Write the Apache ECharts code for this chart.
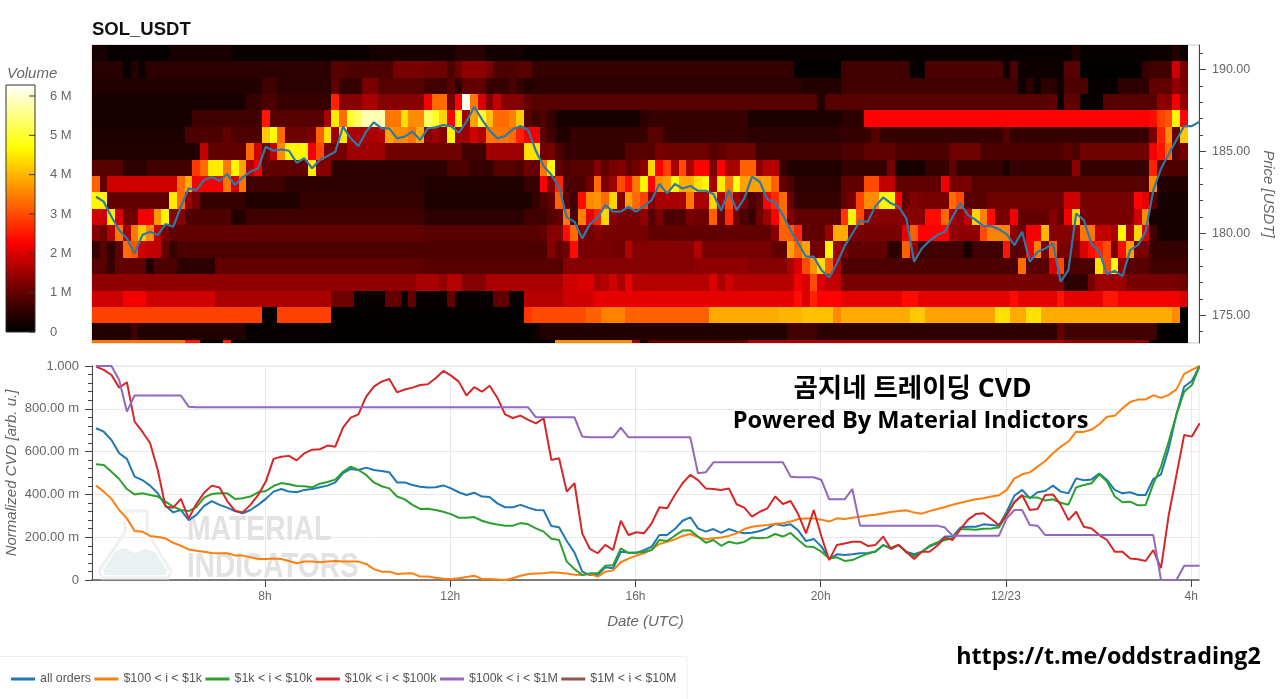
<!DOCTYPE html>
<html><head><meta charset="utf-8">
<style>html,body{margin:0;padding:0;background:#fff}#c{width:1280px;height:699px}</style>
<script src="https://cdn.jsdelivr.net/npm/echarts@6/dist/echarts.min.js"></script>
</head><body><div id="c"></div>
<script>
// Heatmap rows: flat [startColumn, volume in millions, ...] runs per price level (10-minute columns)
const row191=[0,.3,2,.1,10,.3,18,.15,36,.3,47,.45,51,.25,56,.12,127,.4,128,.1,137,.2,140,.4,141,.2];
const row190=[0,.45,4,.1,5,.45,6,.2,7,.5,31,.9,33,.8,39,1.2,43,1.1,46,.8,47,1.1,48,1.4,51,1.2,52,.8,55,.9,57,.6,91,.05,97,.7,106,.1,108,.8,118,.2,119,.8,120,.2,126,.9,128,.05,136,.6,137,.7,140,1.9,141,1.2];
const row189=[0,.4,22,.7,24,.5,31,1,32,.6,35,1.2,37,.9,43,.7,46,.9,47,.5,48,1,51,.6,54,.8,55,.6,56,.4,57,.5,92,.4,97,.7,120,.2,121,.5,122,.2,123,.5,125,.2,126,.8,129,.1,133,.5,136,.5,137,1,139,1,140,1.4,141,1.2];
const row188=[0,.3,20,.6,22,.8,24,.6,31,2.6,32,1.3,35,1.6,37,1.3,43,2.2,44,3.3,46,1.2,47,2.3,48,6.2,49,3.4,50,2,51,1.3,52,1.8,53,1.3,56,1,57,.9,94,.4,95,.9,124,1,125,.1,126,1,128,.1,131,.9,138,1.4,139,1.3,140,2.2,141,1.4];
const row187=[0,.3,13,.7,22,2.5,23,.9,30,1.6,31,4.5,32,3.3,33,4.9,34,5.3,35,5.8,38,3.4,40,4.4,41,3.6,43,5.3,44,5,45,4.3,46,2.3,47,4.6,48,1.5,49,3.8,50,5,51,4.1,52,3.3,54,3.5,55,4.2,56,.9,57,.7,58,.8,59,.6,60,.3,71,.5,72,.6,85,.35,97,.5,100,2.3,137,2.4,138,2.9,139,3.1,140,4.6,141,2.3];
const row186=[0,.35,12,.8,17,1,18,.8,22,4.2,23,4.7,24,3.3,25,1.1,28,1.2,29,3.2,30,4.4,31,1.5,32,4.5,33,1.6,37,1.7,38,3.8,39,3.6,41,3.4,42,3.9,43,1.3,44,1.5,45,1.3,46,4.6,47,1.5,49,1.9,50,1.7,51,3.4,54,3.3,55,2.6,56,2.2,58,.9,59,.7,60,.4,62,.6,72,.9,74,.6,85,.5,97,.6,101,.9,102,.6,118,.9,119,.6,137,1.2,138,2.6,139,3.6,140,1,141,4.2];
const row185=[0,.4,14,1.8,15,1,20,3.3,21,1.9,22,1.1,23,1.8,24,3.6,25,4.6,28,2.2,29,3,30,1.2,33,1.5,38,1.1,48,.7,51,1.5,56,4.4,58,1.1,59,1.2,60,.8,61,.6,69,.9,73,1.2,74,1.1,80,.9,81,1,82,1.1,86,.7,97,.8,100,1,104,.8,111,1.1,115,.8,126,1,127,.8,128,1.1,137,2.2,138,2.5,139,3.3,140,.9,141,1.2];
const row184=[0,.9,4,.5,7,.7,13,2.8,14,3.3,15,4.5,17,3.4,18,4.6,19,3.8,20,1.7,21,2.2,22,1,28,4.5,29,1.3,31,.5,43,.5,46,.8,49,.6,52,.9,55,.8,56,1.1,57,1,58,3.4,59,4.6,60,1,61,.8,62,.9,65,1.3,66,1,67,1.2,68,1.3,69,1,70,1.1,71,1.4,72,4.3,73,2.3,74,2.9,75,1.6,76,3,77,1.6,78,2.3,80,1.2,81,2.3,82,1.6,84,3.2,86,1.4,87,1.7,89,.6,90,.4,97,.6,103,1.2,104,.3,108,.6,111,1,112,.6,118,.3,119,.6,127,1.4,128,.6,137,2.6,138,.9,139,.8];
const row183=[0,3.2,1,1,2,1.9,11,3.3,12,3.9,13,2.2,17,3.4,18,2,19,3.4,20,.7,25,.5,43,.4,56,.6,58,2.3,59,1.3,60,2.6,61,.8,64,1.1,65,3.3,66,1.2,67,1.5,68,3,69,2.4,70,3.4,71,4.6,72,2.3,73,3.6,74,3.8,75,4.6,76,3.9,78,4.4,79,4.6,80,1.6,81,4.5,82,3.4,83,4.8,84,3.8,88,3.2,89,1,90,.8,91,.5,97,1,100,3,102,1.8,104,1,110,2.2,111,1.2,114,.9,137,3.6,138,.4];
const row182=[0,4.6,2,1,10,4.5,11,3.3,12,1.5,13,1.2,14,.6,20,.4,27,.6,43,.35,57,.6,58,.8,59,1,60,3.2,61,1,62,.7,63,2.4,64,3.6,65,3.7,66,3.3,67,4.3,68,1.3,69,3.8,70,3.3,71,2.9,72,1.3,73,1.6,77,3.4,78,1.6,80,4.3,81,1.7,82,3,83,1.5,84,1.2,85,.8,86,1,87,2.3,88,2.7,89,3.3,90,1.1,91,.6,97,1,98,1.2,99,2.9,100,3.6,102,4.6,104,2.3,105,1,106,1.3,107,1.2,111,3.3,112,3,113,.9,116,1.1,126,1.9,128,1.2,135,2.3,136,2.1,137,.9,138,.3];
const row181=[0,1.9,2,4.5,3,2,4,1.1,6,2.2,8,3.7,9,4.6,10,1.3,12,.8,18,.4,20,.7,43,.5,56,.7,59,.9,60,1,61,3.4,62,.8,63,3.5,64,2.1,65,2.6,66,4.3,67,1.3,68,1.2,71,1.4,72,.9,73,1.2,74,.8,77,1.2,78,1.1,80,3.2,81,1.1,82,2.7,83,1.1,84,.8,85,.6,86,1.1,87,1.5,88,2.3,89,3.3,90,1.3,91,1,97,2.8,98,4.6,99,3,100,1.3,108,2.4,110,3.3,111,1.6,112,1.4,113,1.8,114,4.3,115,3.5,116,2.4,117,1.2,119,2.2,120,1,124,1.3,125,1,126,2.2,127,4.3,128,1.2,135,1.9,136,3.6,137,.3];
const row180=[0,1.3,1,1.1,2,1.7,3,3.4,4,1.6,5,3.4,6,4.2,7,3.6,8,1.8,9,1.2,10,1,43,.9,58,1,59,1.3,61,2.4,62,3.3,63,1.3,64,1.1,65,1.3,66,1.2,72,1,88,1.3,89,3.2,91,2.7,92,1,95,1.5,96,3.9,98,1.2,105,2.1,106,3.2,107,2.3,111,1.4,115,3,116,3.5,119,1.4,120,1.1,121,2.2,123,4,124,1.3,127,1.5,128,3.4,130,1.8,132,1.6,133,4.6,134,1.6,135,4.3,136,2,137,.7,138,.3];
const row179=[0,.6,1,.9,2,.5,3,1,4,3.3,5,3.1,6,1.9,7,1.8,9,1,10,.6,11,.8,43,.8,59,1.3,60,1,61,1.1,62,2.4,63,1.2,68,1.1,69,1.7,70,1.3,78,1.7,79,1.2,88,1,90,3.8,91,3.3,92,3.8,93,1.1,94,1.2,95,4.6,96,1.5,97,1.2,98,1,103,.5,105,3.2,106,1.4,107,.7,113,.3,114,.7,118,2.5,119,.9,120,1,121,2.2,122,3.5,123,1.2,124,3.2,125,1.2,128,2,129,2.4,130,2.6,131,3,132,1.2,133,2.4,134,3.8,135,1.2,137,.6];
const row178=[0,.9,2,.6,3,1,7,.4,8,.8,11,.5,16,1,43,.9,61,1.3,78,1.4,85,1.3,90,1.6,91,2,92,3,93,3.7,94,4.4,95,3.2,96,1.6,97,.8,120,3.3,121,.9,124,2,125,3,126,.8,130,4.4,131,3,132,4.7,133,1.4,134,.9,137,.7];
const row177=[0,1.4,42,1.6,45,1.4,46,1.7,48,1.3,51,1.6,61,1.9,63,2,65,1.6,66,1.7,67,1.9,68,1.6,69,2.1,70,1.7,80,2,81,1.6,82,1.9,83,1.7,91,2.2,92,2,93,3,94,2,95,1.8,97,1.2,126,.5,129,1.2,130,1.5,134,1.2,141,1.1];
const row176=[0,1.9,4,2.2,7,1.9,16,1.6,31,1.1,34,.1,38,1,40,.1,41,1,42,.1,46,1,47,.1,52,1,54,.1,56,1.7,61,1.9,65,2.1,88,2.1,91,2.4,92,2,93,2.6,94,2.3,97,2.1,105,2.4,107,2.1,119,2.4,120,2.1,125,2.5,126,2.1,131,2.5,133,2.2,141,2];
const row175=[0,2.9,22,.1,24,2.9,31,.05,56,2.8,57,3,64,3.2,66,3.5,69,3.2,80,3.9,89,4,92,4.1,96,3.6,97,3.9,106,4.2,108,3.8,117,4.4,119,3.9,121,4.4,123,3.9,140,3.6,141,.05];
const row174=[0,.4,5,.7,6,.4,20,.1,31,.05,57,.2,58,.4,90,.7,94,.5,125,1,126,.7,138,.05];
const row173=[0,3.4,12,2.5,14,.1,17,2.6,18,.05,60,3.6,70,1.5,71,.3,72,1,85,1.6,126,1.4,137,.05];
const heatRows={191:row191,190:row190,189:row189,188:row188,187:row187,186:row186,185:row185,184:row184,183:row183,182:row182,181:row181,180:row180,179:row179,178:row178,177:row177,176:row176,175:row175,174:row174,173:row173};
const columnCount=142, heatStart=4.263, step=1/6, lineStart=4.35;

const price=[182.23,181.93,181.01,180.2,179.69,178.77,179.89,180.09,179.89,180.56,180.4,181.62,182.74,182.64,183.25,183.44,183.21,183.62,182.95,183.41,183.76,183.97,185.29,185.04,185.13,185.04,184.31,184.58,183.97,184.47,184.72,184.98,186.51,185.8,185.33,186.21,186.78,186.41,186.41,185.8,185.9,186.21,185.7,
186.41,186.47,186.61,186.55,186.14,186.82,187.73,186.96,186.27,185.8,185.94,186.35,186.55,186.31,185.02,184.11,183.56,182.84,180.97,180.7,179.69,180.56,180.97,181.72,181.32,181.32,181.62,181.32,181.66,182.03,183.01,182.44,183.01,182.74,182.89,182.6,182.6,182.4,181.38,182.64,181.42,182.13,183.46,183.15,182.07,181.89,181.11,180.2,179.38,178.57,178.57,177.75,177.3,178.16,
179.22,179.99,180.75,180.7,181.66,182.19,181.83,181.62,180.91,178.26,179.07,179.54,179.89,180.09,181.01,181.83,181.11,180.81,180.44,180.44,180.24,179.95,179.28,180.09,178.26,178.87,179.07,179.38,177.04,177.75,181.21,180.81,179.34,178.87,177.51,177.71,177.38,178.97,179.28,180.09,182.64,183.96,184.84,185.7,186.55,186.55,186.82];

// Normalized CVD in milli-units
const allOrders=[709,693,654,592,566,483,467,441,405,347,316,327,280,304,346,369,351,338,322,312,327,351,379,413,425,413,410,421,425,433,441,456,499,519,514,525,514,509,503,456,456,444,436,
432,433,442,428,410,397,408,390,388,358,340,340,351,338,327,326,252,246,182,128,39,23,23,59,55,132,128,126,139,156,210,210,238,277,293,241,226,238,220,238,226,218,221,229,241,262,254,260,231,182,192,156,98,120,
117,120,125,126,132,164,146,164,132,120,132,156,171,203,203,245,249,249,260,257,254,319,394,421,382,410,416,441,413,405,475,466,470,497,467,421,405,410,397,397,472,494,615,774,903,930,1000];
const tier100=[441,413,379,327,288,229,226,206,201,195,174,160,143,137,132,126,125,125,115,114,106,98,98,100,98,89,78,86,86,83,87,89,86,86,86,75,51,39,39,28,30,31,16,
16,11,6,5,8,14,20,5,5,2,0,8,20,28,30,31,36,34,30,25,23,28,16,39,45,83,100,114,125,143,168,178,190,206,215,201,190,195,199,206,218,238,249,254,257,263,265,273,285,287,288,282,273,288,
285,291,296,301,305,312,318,322,326,315,310,322,332,341,352,361,369,377,382,390,396,421,475,494,503,530,556,592,623,647,693,692,703,728,763,768,802,832,843,844,863,851,865,891,963,982,1000];
const tier1k=[541,537,506,472,425,400,405,397,390,366,343,327,322,341,385,402,405,405,379,382,390,410,416,439,453,447,439,438,433,450,458,469,506,530,514,491,456,438,428,390,377,351,332,
333,327,319,308,291,291,294,277,266,259,254,254,266,260,241,226,193,187,86,51,23,31,31,67,69,148,126,129,131,140,187,182,207,231,232,203,174,187,160,179,171,178,199,195,198,215,203,220,187,157,154,132,101,106,
89,93,109,123,134,162,151,164,128,111,132,160,176,187,195,237,237,235,240,241,245,304,366,393,385,385,371,377,361,352,433,444,452,494,460,390,363,366,349,351,449,530,647,774,880,911,1000];
const tier10k=[997,982,958,899,924,740,693,640,514,343,338,379,288,355,408,441,432,369,324,316,351,397,460,566,576,580,559,592,609,611,628,623,712,759,774,857,904,927,939,877,890,899,911,
915,943,977,955,927,862,901,880,908,852,774,757,768,748,732,756,561,569,413,452,218,145,125,164,140,277,210,223,218,265,340,335,397,452,491,467,428,425,421,428,354,338,296,319,335,390,355,369,307,218,327,203,93,164,
171,179,179,159,164,203,145,164,132,98,132,132,160,198,187,238,282,308,312,285,257,304,363,397,327,332,397,400,351,280,319,249,241,210,187,132,132,101,97,89,140,55,304,491,678,670,732];
const tier100k=[1000,1000,1000,935,787,862,862,862,862,862,862,862,810,
807,807,807,807,807,807,807,807,807,807,807,807,807,807,807,807,807,807,807,807,807,807,807,807,807,807,807,807,807,807,807,807,807,807,807,807,807,807,807,807,807,807,807,807,
760,760,760,760,760,760,670,667,667,667,667,712,667,667,667,667,667,667,667,667,667,499,503,550,550,550,550,550,550,550,550,550,550,483,480,480,480,467,377,377,377,425,
254,254,254,254,254,254,254,254,254,254,254,245,207,207,207,207,207,207,207,288,327,327,257,254,210,210,210,210,210,210,210,210,210,210,210,210,210,210,210,0,0,0,67,67,67];
const tier1M=[];

const xTicks=[8,12,16,20,24,28];
const xTickLabels={8:'8h',12:'12h',16:'16h',20:'20h',24:'12/23',28:'4h'};
const priceTicks=[175,180,185,190];
const priceMinorTicks=[174,175,176,177,178,179,180,181,182,183,184,185,186,187,188,189,190,191];
const volumeTicks=[0,1,2,3,4,5,6];
const volumeMax=6.28;

const tMin=4.263,tMax=28.17;
const timeOf=i=>lineStart+i*step;
const pts=a=>a.map((v,i)=>[timeOf(i),v]);

const heatCells=[];
Object.keys(heatRows).forEach(p=>{
  const r=heatRows[p];
  for(let k=0;k<r.length;k+=2){
    const end=k+2<r.length?r[k+2]:columnCount;
    for(let c=r[k];c<end;c++) heatCells.push([heatStart+c*step,+p,r[k+1],heatStart+(c+1)*step]);
  }
});

function hot(t){
  const a=.365,b=.746;
  const R=Math.min(1,Math.pow(t/a,1.15)),G=t<a?0:Math.min(1,(t-a)/(b-a)),B=t<b?0:(t-b)/(1-b);
  return `rgb(${Math.round(R*255)},${Math.round(G*255)},${Math.round(B*255)})`;
}
const barStops=[];for(let i=0;i<=64;i++)barStops.push({offset:i/64,color:hot(1-i/64)});

const FONT='"Liberation Sans",Arial,sans-serif';
const GREY='#666';
const lineS=(name,data,color)=>({name,type:'line',xAxisIndex:1,yAxisIndex:2,data:pts(data),symbol:'none',showSymbol:false,
  lineStyle:{width:2,color},itemStyle:{color},z:3,animation:false});

const chart=echarts.init(document.getElementById('c'),null,{renderer:'canvas'});
chart.setOption({
  animation:false,
  backgroundColor:'#fff',
  grid:[
    {left:92,top:45,width:1107,height:298,show:true,borderColor:'#ccc',borderWidth:1,backgroundColor:'transparent',outerBoundsMode:'none'},
    {left:92,top:366,width:1107,height:214,show:true,borderColor:'#e8e8e8',borderWidth:1,backgroundColor:'transparent',outerBoundsMode:'none'},
    {left:6,top:85,width:29,height:247,show:false,outerBoundsMode:'none'}
  ],
  xAxis:[
    {gridIndex:0,type:'value',min:tMin,max:tMax,show:false},
    {gridIndex:1,type:'value',min:tMin,max:tMax,
      axisLine:{show:true,lineStyle:{color:'#555',width:1.5},onZero:false},
      axisTick:{show:true,length:7,lineStyle:{color:'#444'},customValues:xTicks},
      axisLabel:{customValues:xTicks,formatter:v=>xTickLabels[v],color:GREY,fontSize:12,fontFamily:FONT,margin:11},
      splitLine:{show:true,lineStyle:{color:'#e8e8e8'}},
      name:'Date (UTC)',nameLocation:'middle',nameGap:34,
      nameTextStyle:{fontStyle:'italic',fontSize:15,color:GREY,fontFamily:FONT}},
    {gridIndex:2,type:'value',min:0,max:1,show:false}
  ],
  yAxis:[
    {gridIndex:0,type:'value',min:173.3,max:191.5,position:'right',
      axisLine:{show:true,lineStyle:{color:'#444'}},
      axisTick:{show:true,length:7,lineStyle:{color:'#444'},customValues:priceTicks},
      axisLabel:{customValues:priceTicks,formatter:v=>v.toFixed(2),color:GREY,fontSize:12.5,fontFamily:FONT,margin:13},
      splitLine:{show:false},
      name:'Price [USDT]',nameLocation:'middle',nameGap:62,nameRotate:-90,
      nameTextStyle:{fontStyle:'italic',fontSize:15,color:GREY,fontFamily:FONT}},
    {gridIndex:0,type:'value',min:173.3,max:191.5,position:'right',
      axisLine:{show:false},axisLabel:{show:false},splitLine:{show:false},
      axisTick:{show:true,length:4,lineStyle:{color:'#444'},customValues:priceMinorTicks}},
    {gridIndex:1,type:'value',min:0,max:1000,interval:200,
      axisLine:{show:true,lineStyle:{color:'#444'}},
      axisTick:{show:true,length:7,lineStyle:{color:'#444'}},
      minorTick:{show:true,splitNumber:5,length:4,lineStyle:{color:'#444'}},
      axisLabel:{formatter:v=>v===0?'0':v===1000?'1.000':v.toFixed(2)+' m',color:GREY,fontSize:13,fontFamily:FONT,margin:13},
      splitLine:{show:true,lineStyle:{color:'#e8e8e8'}}},
    {gridIndex:2,type:'value',min:0,max:volumeMax,position:'right',
      axisLine:{show:false},
      axisTick:{show:false},
      axisLabel:{customValues:volumeTicks,formatter:v=>v===0?'0':v+' M',color:GREY,fontSize:13,fontFamily:FONT,margin:15},
      splitLine:{show:false}}
  ],
  legend:{left:11,top:673,padding:0,itemWidth:24,itemHeight:3,itemGap:3.5,icon:'rect',
    data:['all orders','$100 < i < $1k','$1k < i < $10k','$10k < i < $100k','$100k < i < $1M','$1M < i < $10M'],
    textStyle:{fontSize:12.4,color:'#555',fontFamily:FONT}},
  series:[
    {name:'heat',type:'custom',xAxisIndex:0,yAxisIndex:0,data:heatCells,encode:{x:0,y:1},z:1,silent:true,
      dimensions:['t','price','volume','tEnd'],
      renderItem(params,api){
        const a=api.coord([api.value(0),api.value(1)+.5]);
        const b=api.coord([api.value(3),api.value(1)-.5]);
        const rect=echarts.graphic.clipRectByRect({x:Math.round(a[0]),y:Math.round(a[1]),width:Math.round(b[0])-Math.round(a[0]),height:Math.round(b[1])-Math.round(a[1])},params.coordSys);
        return rect&&{type:'rect',shape:rect,style:{fill:hot(api.value(2)/volumeMax)}};
      }},
    {name:'price',type:'line',xAxisIndex:0,yAxisIndex:0,data:pts(price),symbol:'none',showSymbol:false,
      lineStyle:{width:2.2,color:'#2f79a6'},z:3,clip:true},
    lineS('all orders',allOrders,'#1f77b4'),
    lineS('$100 < i < $1k',tier100,'#ff7f0e'),
    lineS('$1k < i < $10k',tier1k,'#2ca02c'),
    lineS('$10k < i < $100k',tier10k,'#d62728'),
    lineS('$100k < i < $1M',tier100k,'#9467bd'),
    lineS('$1M < i < $10M',tier1M,'#8c564b')
  ],
  graphic:[
    {type:'rect',z:5,shape:{x:6,y:85,width:29,height:247},style:{fill:new echarts.graphic.LinearGradient(0,0,0,1,barStops),stroke:'#333',lineWidth:1}},
    ...volumeTicks.map(v=>({type:'line',z:6,shape:{x1:29,x2:35,y1:332-v*247/volumeMax,y2:332-v*247/volumeMax},style:{stroke:'#333',lineWidth:1}})),
    {type:'rect',z:0,shape:{x:-2,y:656.5,width:689,height:46},style:{fill:'none',stroke:'#eee',lineWidth:1}},
    // watermark
    {type:'polygon',z:1,shape:{points:[[125,511],[147,511],[147,532],[171,571],[168,578],[102,578],[99,571],[125,532]]},style:{fill:'none',stroke:'#eef0f1',lineWidth:3}},
    {type:'polygon',z:1,shape:{points:[[103,570],[115,552],[125,548],[135,553],[145,549],[155,552],[167,570],[165,575],[105,575]]},style:{fill:'#e9f1f3'}},
    {type:'text',z:1,x:187,y:513,scaleX:.81,style:{text:'MATERIAL',fill:'#e2e2e2',font:'bold 35px "Liberation Sans"'}},
    {type:'text',z:1,x:187,y:550,scaleX:.8,style:{text:'INDICATORS',fill:'#e2e2e2',font:'bold 35px "Liberation Sans"'}},
    // titles
    {type:'text',z:100,left:92,top:20,style:{text:'SOL_USDT',fill:'#111',font:'bold 18.5px "Liberation Sans"'}},
    {type:'text',z:100,left:7,top:66,style:{text:'Volume',fill:GREY,font:'italic 15px "Liberation Sans"'}},
    {type:'text',z:100,rotation:Math.PI/2,x:12,y:473,style:{text:'Normalized CVD [arb. u.]',fill:GREY,font:'italic 15px "Liberation Sans"',align:'center',verticalAlign:'middle'}},
    {type:'text',z:100,x:912.5,y:389,style:{text:'곰지네 트레이딩 CVD',fill:'#000',font:'bold 26.5px "Open Sans","Noto Sans CJK KR"',align:'center',verticalAlign:'middle'}},
    {type:'text',z:100,x:910.5,y:421,style:{text:'Powered By Material Indictors',fill:'#000',font:'bold 23.6px "Open Sans","Noto Sans CJK KR"',align:'center',verticalAlign:'middle'}},
    {type:'text',z:100,x:1108.5,y:657,style:{text:'https://t.me/oddstrading2',fill:'#000',font:'bold 23.3px "Open Sans","Noto Sans CJK KR"',align:'center',verticalAlign:'middle'}}
  ]
});
</script></body></html>
